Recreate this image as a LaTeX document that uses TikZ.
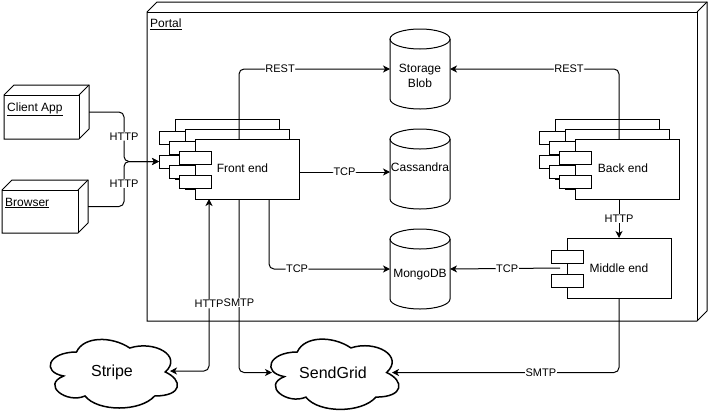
\documentclass[tikz,border=0pt]{standalone}
\usepackage{fontspec}
\setmainfont{Liberation Sans}
\usetikzlibrary{calc,arrows.meta}
\tikzset{
  base/.style={line width=1pt},
  boxnode/.style={draw=none, inner sep=0pt, outer sep=0pt},
  comprect/.style={draw, line width=1pt, fill=white, minimum width=104pt, minimum height=60pt, inner sep=0pt, outer sep=0pt},
  comptab/.style={draw, line width=1pt, fill=white, minimum width=32pt, minimum height=13pt, inner sep=0pt, outer sep=0pt},
  cylnode/.style={draw=none, minimum width=60pt, minimum height=80pt, inner sep=0pt, outer sep=0pt},
  t12/.style={font=\fontsize{12}{15}\selectfont},
  big/.style={font=\fontsize{16}{19}\selectfont},
  lbl/.style={font=\fontsize{11}{13}\selectfont, fill=white, inner sep=0.6pt},
  conn/.style={line width=1pt, rounded corners=5pt, -{Stealth[length=7pt,width=7pt,inset=2pt]}},
  conn2/.style={line width=1pt, rounded corners=5pt, {Stealth[length=7pt,width=7pt,inset=2pt]}-{Stealth[length=7pt,width=7pt,inset=2pt]}},
}
\newcommand\nodebox[1]{%
  \draw[base, fill=white] ($(#1.north west)+(0,10)$) -- ($(#1.north west)+(10,0)$) -- (#1.north east) -- ($(#1.south east)+(0,-10)$) -- ($(#1.south east)+(-10,0)$) -- (#1.south west) -- cycle;
  \draw[base] ($(#1.north west)+(0,10)$) -- ($(#1.north east)+(-10,10)$) -- ($(#1.south east)+(-10,0)$);
  \draw[base] ($(#1.north east)+(-10,10)$) -- (#1.north east);
}
\newcommand\complayer[3]{%
  \node[comprect, anchor=north west] (#1) at (#2,#3) {};
  \node[comptab, anchor=north west] (#1-t1) at ($(#1.north west)+(-16,12)$) {};
  \node[comptab, anchor=north west] (#1-t2) at ($(#1.north west)+(-16,36)$) {};
}
\newcommand\cylshape[1]{%
  \draw[base] ($(#1.north west)+(0,10)$) -- ($(#1.south west)+(0,-10)$)
    .. controls ($(#1.south west)+(0,-4.48)$) and ($(#1.south)+(-16.57,0)$) .. (#1.south)
    .. controls ($(#1.south)+(16.57,0)$) and ($(#1.south east)+(0,-4.48)$) .. ($(#1.south east)+(0,-10)$)
    -- ($(#1.north east)+(0,10)$);
  \draw[base] ($(#1.north)+(0,10)$) ellipse [x radius=30pt, y radius=10pt];
}
\newcommand\cloudshape[3]{%
  \begin{scope}[shift={(#1.north west)}, x=#2pt, y=-#3pt]
  \draw[line width=1.5pt] (0.25,0.25) .. controls (0.05,0.25) and (0,0.5) .. (0.16,0.55)
    .. controls (0,0.66) and (0.18,0.9) .. (0.31,0.8)
    .. controls (0.4,1) and (0.7,1) .. (0.8,0.8)
    .. controls (1,0.8) and (1,0.6) .. (0.875,0.5)
    .. controls (1,0.3) and (0.8,0.1) .. (0.625,0.2)
    .. controls (0.5,0.05) and (0.3,0.05) .. (0.25,0.25) -- cycle;
  \end{scope}
}
\begin{document}
\begin{tikzpicture}[x=1pt,y=-1pt]
\useasboundingbox (0,0) rectangle (708,418);
% Portal
\node[boxnode, minimum width=560pt, minimum height=319pt] (portal) at (427,161.5) {};
\nodebox{portal}
\node[t12, anchor=base west, inner sep=0pt] (portal-t) at ($(portal.north west)+(3,25.5)$) {\underline{Portal}};
% Client App
\node[boxnode, minimum width=85pt, minimum height=54pt] (ca) at (46.5,112) {};
\nodebox{ca}
\node[t12, anchor=base west, inner sep=0pt] (ca-t) at ($(ca.north west)+(3,26.5)$) {\underline{Client App}};
% Browser
\node[boxnode, minimum width=86pt, minimum height=53pt] (br) at (45,206.5) {};
\nodebox{br}
\node[t12, anchor=base west, inner sep=0pt] (br-t) at ($(br.north west)+(3,26)$) {\underline{Browser}};
% Front end
\complayer{fe3}{175}{119}
\complayer{fe2}{185}{129}
\complayer{fe}{195}{139}
\node[t12] (fe-t) at (242.5,168.5) {Front end};
% Back end
\complayer{be3}{555}{119}
\complayer{be2}{565}{129}
\complayer{be}{575}{139}
\node[t12] (be-t) at (623,168.5) {Back end};
% Middle end
\complayer{me}{567}{238}
\node[t12] (me-t) at (619,268) {Middle end};
% Cylinders
\node[cylnode] (blob) at (420,69) {};
\cylshape{blob}
\node[t12, align=center] (blob-t) at (420,75.5) {Storage\\Blob};
\node[cylnode] (cass) at (420,169) {};
\cylshape{cass}
\node[t12] (cass-t) at (420,167.5) {Cassandra};
\node[cylnode] (mongo) at (420,269) {};
\cylshape{mongo}
\node[t12] (mongo-t) at (420,275) {MongoDB};
% Clouds
\node[big, boxnode, minimum width=142pt, minimum height=80pt] (stripe) at (112,372) {Stripe};
\cloudshape{stripe}{142}{80}
\node[big, boxnode, minimum width=143pt, minimum height=82pt] (sendgrid) at (333,372.5) {SendGrid};
\cloudshape{sendgrid}{143}{82}
% Connectors
\draw[conn] (ca.east) -| node[lbl, pos=0.745] (l-http1) {HTTP} ($(fe3-t2.west)+(-35,0)$) -- (fe3-t2.west);
\draw[conn] (br.east) -| node[lbl, pos=0.755] (l-http2) {HTTP} ($(fe3-t2.west)+(-35,0)$) -- (fe3-t2.west);
\draw[conn] ($(fe.north west)+(44,0)$) |- node[lbl, pos=0.636] (l-rest1) {REST} (blob.west);
\draw[conn] ($(be.north west)+(44,0)$) |- node[lbl, pos=0.648] (l-rest2) {REST} (blob.east);
\draw[conn] ($(fe.east)+(0,3)$) -- node[lbl] (l-tcp1) {TCP} ($(cass.west)+(0,3)$);
\draw[conn] ($(fe.south west)+(74,0)$) |- node[lbl, pos=0.616] (l-tcp2) {TCP} (mongo.west);
\draw[conn] ($(me.west)+(-7,0)$) -- node[lbl, pos=0.48] (l-tcp3) {TCP} (mongo.east);
\draw[conn] ($(be.south west)+(44,0)$) -- node[lbl] (l-http3) {HTTP} (me.north);
\draw[conn2] ($(fe.south west)+(14,0)$) |- node[lbl, pos=0.305] (l-http4) {HTTP} ($(stripe.east)+(-13,-1)$);
\draw[conn] ($(fe.south west)+(44,0)$) |- node[lbl, pos=0.298] (l-smtp1) {SMTP} ($(sendgrid.west)+(10.5,0)$);
\draw[conn] (me.south) |- node[lbl, pos=0.672] (l-smtp2) {SMTP} ($(sendgrid.east)+(-12.5,0)$);
\end{tikzpicture}
\end{document}
